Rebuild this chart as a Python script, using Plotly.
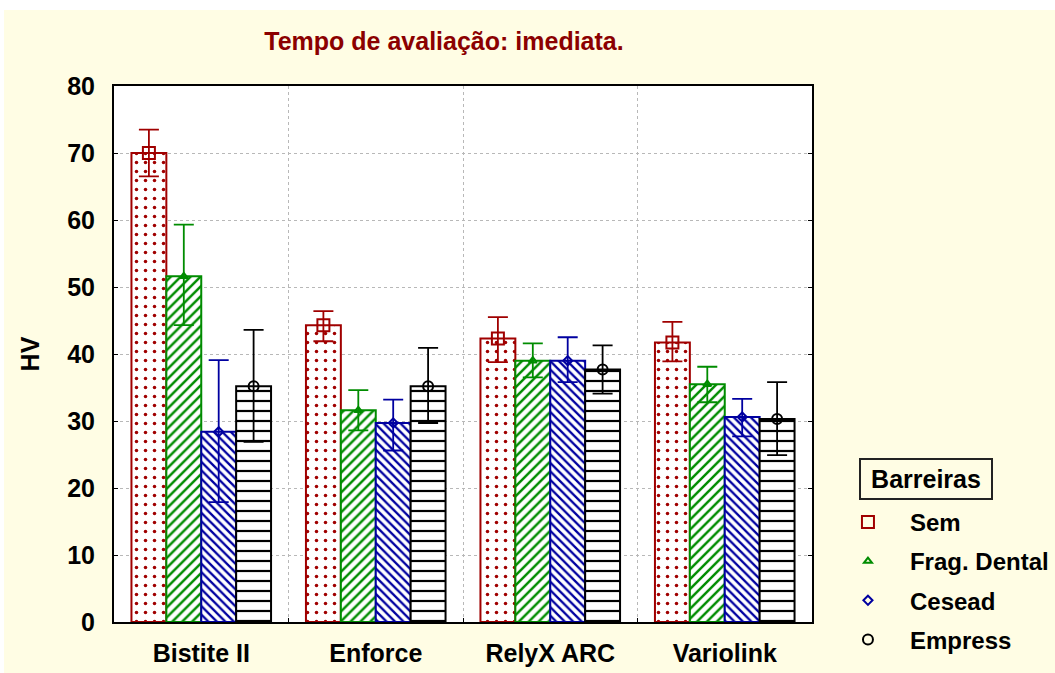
import plotly.graph_objects as go

categories = ["Bistite II", "Enforce", "RelyX ARC", "Variolink"]
series = ["Sem", "Frag. Dental", "Cesead", "Empress"]
means = {
    "Sem":          [70.0, 44.3, 42.3, 41.7],
    "Frag. Dental": [51.6, 31.6, 39.0, 35.5],
    "Cesead":       [28.4, 29.7, 39.0, 30.6],
    "Empress":      [35.2, 35.2, 37.7, 30.3],
}
upper = {
    "Sem":          [73.5, 46.4, 45.5, 44.8],
    "Frag. Dental": [59.3, 34.6, 41.6, 38.1],
    "Cesead":       [39.1, 33.2, 42.5, 33.3],
    "Empress":      [43.6, 40.9, 41.3, 35.8],
}
lower = {
    "Sem":          [66.5, 41.9, 38.8, 38.9],
    "Frag. Dental": [44.3, 28.6, 36.5, 32.8],
    "Cesead":       [17.9, 25.6, 35.8, 27.7],
    "Empress":      [26.9, 29.7, 34.1, 24.9],
}
y_ticks = [0, 10, 20, 30, 40, 50, 60, 70, 80]

colors = {"Sem": "#A00000", "Frag. Dental": "#008C00", "Cesead": "#0000A0", "Empress": "#000000"}
patterns = {
    "Sem": dict(shape=".", size=9, solidity=0.12),
    "Frag. Dental": dict(shape="/", size=7, solidity=0.35),
    "Cesead": dict(shape="\\", size=6, solidity=0.38),
    "Empress": dict(shape="-", size=10, solidity=0.22),
}
symbols = {"Sem": "square-open", "Frag. Dental": "triangle-up-open", "Cesead": "diamond-open", "Empress": "circle-open"}
msize = {"Sem": 12, "Frag. Dental": 7, "Cesead": 7, "Empress": 10}

FONT = "Liberation Sans, Arial, sans-serif"
BG = "#FFFDE4"

fig = go.Figure()
for s in series:
    c = colors[s]
    p = patterns[s]
    fig.add_trace(go.Bar(
        x=categories, y=means[s], name=s, showlegend=False, offsetgroup=s,
        marker=dict(color="white", line=dict(color=c, width=2),
                    pattern=dict(shape=p["shape"], size=p["size"], solidity=p["solidity"],
                                 fgcolor=c, fgopacity=1, bgcolor="white", fillmode="overlay")),
        error_y=dict(type="data", symmetric=False,
                     array=[u - m for u, m in zip(upper[s], means[s])],
                     arrayminus=[m - l for m, l in zip(means[s], lower[s])],
                     color=c, thickness=1.8, width=10),
        hoverinfo="skip",
    ))
for s in series:
    c = colors[s]
    fig.add_trace(go.Scatter(
        x=categories, y=means[s], name=s, mode="markers", offsetgroup=s,
        legendgroup=s,
        marker=dict(symbol=symbols[s], size=msize[s], color=c,
                    line=dict(color=c, width=2)),
    ))

fig.update_layout(
    width=1051, height=663,
    paper_bgcolor=BG, plot_bgcolor="white",
    margin=dict(l=110, r=243, t=76, b=51, autoexpand=False),
    barmode="group", bargap=0.2, bargroupgap=0,
    scattermode="group", scattergap=0.2,
    font=dict(family=FONT, color="black", size=24, weight="bold"),
    title=dict(text="Tempo de avaliação: imediata.", x=440 / 1051, xanchor="center",
               y=1 - 31 / 663, yanchor="middle",
               font=dict(family=FONT, size=25, color="#8B0000", weight="bold")),
    legend=dict(x=1.020, y=0.228, xanchor="left", yanchor="top", bgcolor="rgba(0,0,0,0)",
                font=dict(family=FONT, size=24, weight="bold", color="black"),
                itemwidth=74, traceorder="grouped", tracegroupgap=5, itemclick=False),
    showlegend=True,
    annotations=[dict(text="Barreiras", xref="paper", yref="paper",
                      x=(921.5 - 110) / 698, y=1 - (469 - 76) / 536,
                      xanchor="center", yanchor="middle", showarrow=False,
                      width=128, height=36, bordercolor="#222222", borderwidth=2,
                      font=dict(family=FONT, size=25, weight="bold", color="black"))],
)
fig.update_xaxes(
    type="category", tickson="boundaries", showgrid=True, gridcolor="#B8B8B8", griddash="dot",
    gridwidth=1, showline=True, linecolor="black", linewidth=2, mirror=True,
    ticks="inside", ticklen=4, tickcolor="black",
    tickfont=dict(family=FONT, size=25, weight="bold"), ticklabelstandoff=8,
)
fig.update_yaxes(
    range=[0, 80], tickvals=y_ticks, showgrid=True, gridcolor="#B8B8B8", griddash="dot",
    gridwidth=1, showline=True, linecolor="black", linewidth=2, mirror="ticks",
    ticks="inside", ticklen=4, tickcolor="black", zeroline=False,
    tickfont=dict(family=FONT, size=25, weight="bold"), ticklabelstandoff=12,
    title=dict(text="HV", font=dict(family=FONT, size=25, weight="bold"), standoff=20),
)

fig.write_html("out.html", post_script="document.body.style.margin='10px 0 0 4px';document.body.style.background='white';")
